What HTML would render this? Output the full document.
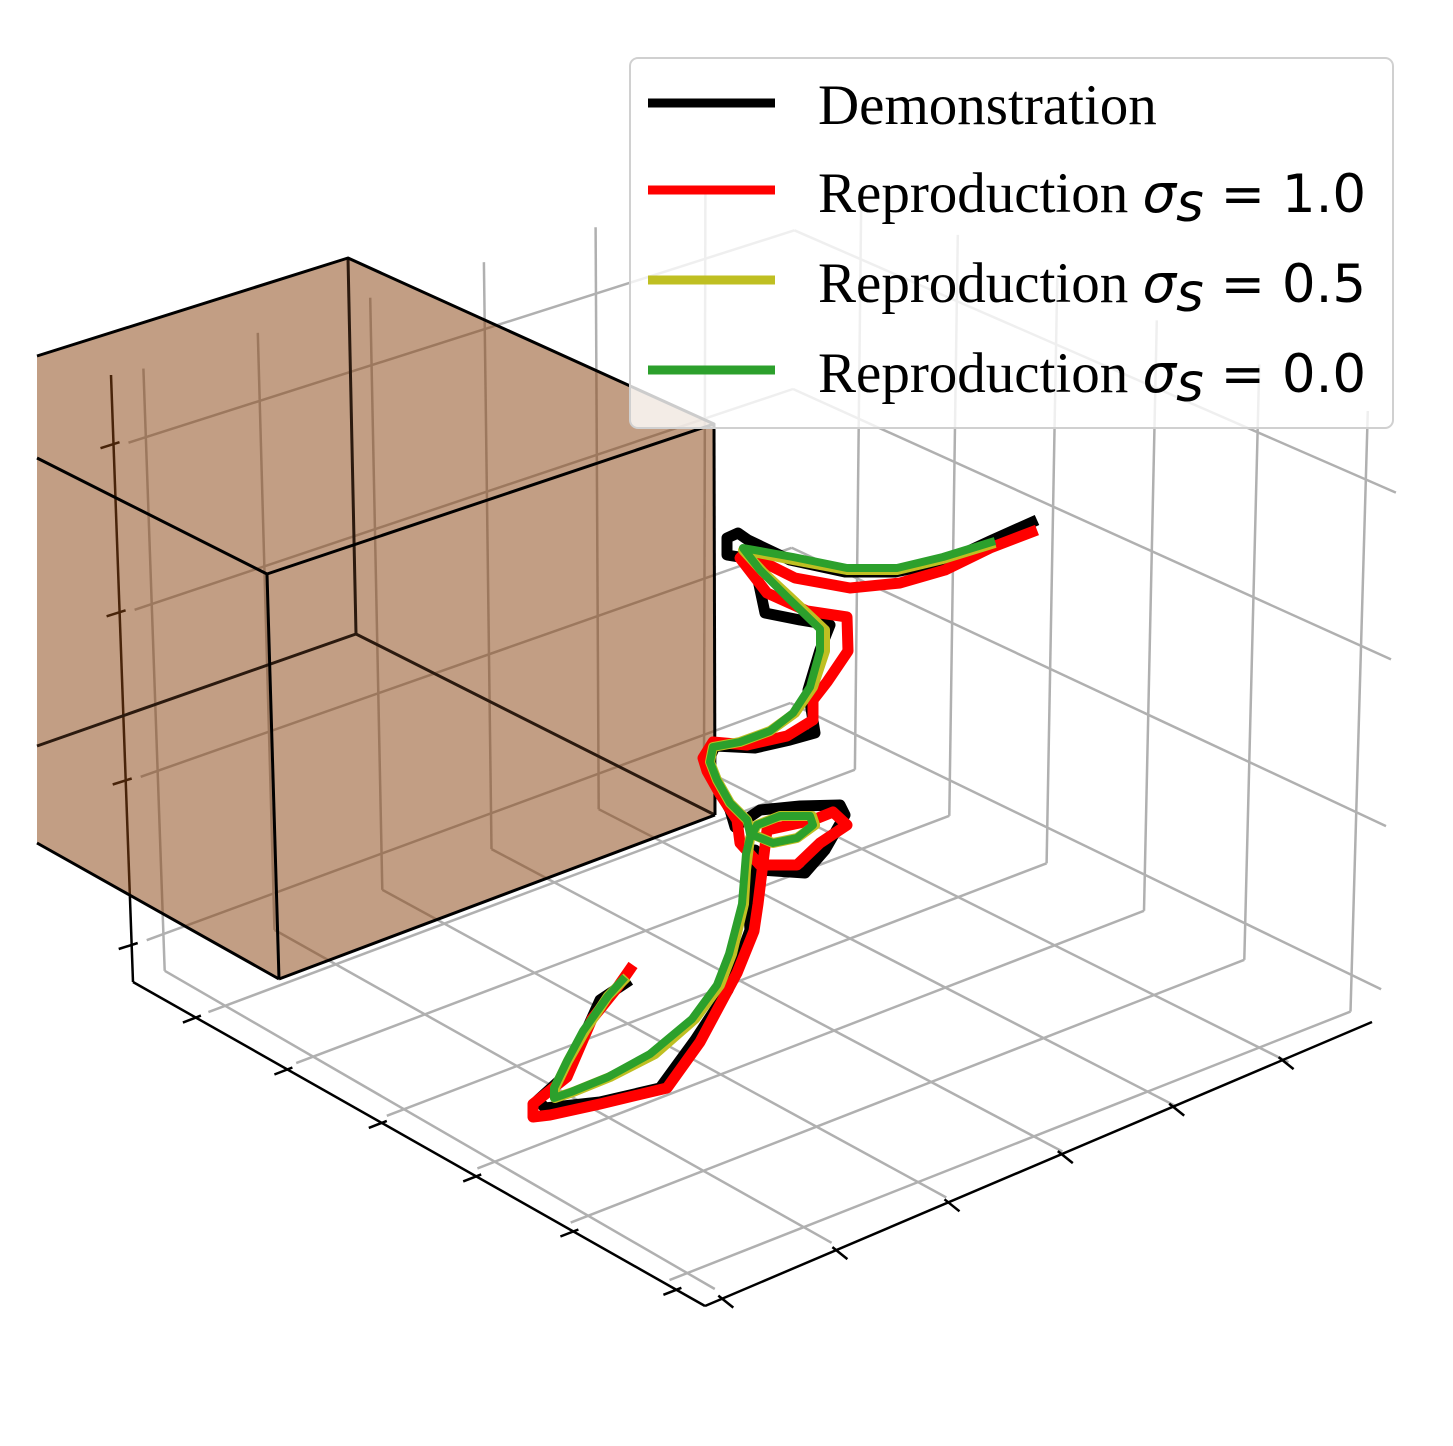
<!DOCTYPE html>
<html><head><meta charset="utf-8"><style>
html,body{margin:0;padding:0;background:#fff;}
svg{display:block;}
.lt{font-family:"Liberation Serif",serif;font-size:57px;fill:#000;}
.mt{font-family:"DejaVu Sans",sans-serif;font-size:53px;fill:#000;}
</style></head><body>
<svg id="chart" width="1453" height="1446" viewBox="0 0 1453 1446" xmlns="http://www.w3.org/2000/svg">
<g id="grid"></g>
<g id="axes"></g>
<g id="box">
<polygon points="37,356 348,258 714,424 715,815 279,979 37,843" fill="rgb(139,69,19)" fill-opacity="0.52"/>
<g stroke="#2b1a0f" stroke-width="3" fill="none">
<line x1="348" y1="258" x2="356" y2="634"/>
<line x1="356" y1="634" x2="715" y2="815"/>
<line x1="356" y1="634" x2="37" y2="746"/>
</g>
<g stroke="#000" stroke-width="3" fill="none" stroke-linejoin="round">
<polyline points="37,356 348,258 714,424 267,574 37,458"/>
<line x1="267" y1="574" x2="279" y2="979"/>
<line x1="714" y1="424" x2="715" y2="815"/>
<line x1="279" y1="979" x2="37" y2="843"/>
<line x1="279" y1="979" x2="715" y2="815"/>
</g>
</g>
<g id="series"></g>
<g id="legend">
<rect x="630" y="58" width="763" height="370" rx="8" fill="#fff" fill-opacity="0.8" stroke="#d0d0d0" stroke-width="2"/>
<g>
<line x1="648" y1="103" x2="775" y2="103" stroke="#000" stroke-width="9"/>
<text class="lt" x="818" y="124">Demonstration</text></g>
<g>
<line x1="648" y1="190" x2="775" y2="190" stroke="#ff0000" stroke-width="9"/>
<text x="818" y="212"><tspan class="lt">Reproduction </tspan><tspan class="mt" font-style="italic">σ</tspan><tspan class="mt" font-style="italic" font-size="37" dy="9">s</tspan><tspan class="mt" dy="-9"> = 1.0</tspan></text></g>
<g>
<line x1="648" y1="280" x2="775" y2="280" stroke="#bfbf22" stroke-width="9"/>
<text x="818" y="302"><tspan class="lt">Reproduction </tspan><tspan class="mt" font-style="italic">σ</tspan><tspan class="mt" font-style="italic" font-size="37" dy="9">s</tspan><tspan class="mt" dy="-9"> = 0.5</tspan></text></g>
<g>
<line x1="648" y1="370" x2="775" y2="370" stroke="#2ca02c" stroke-width="9"/>
<text x="818" y="392"><tspan class="lt">Reproduction </tspan><tspan class="mt" font-style="italic">σ</tspan><tspan class="mt" font-style="italic" font-size="37" dy="9">s</tspan><tspan class="mt" dy="-9"> = 0.0</tspan></text></g>
</g>
</svg>
<script>
// tick fractions along each axis (unit cube)
const uTicks = [0.134, 0.298, 0.465, 0.635, 0.803, 0.974];
const vTicks = [0.11, 0.27, 0.435, 0.60, 0.77, 0.95];
const wTicks = [0.061, 0.332, 0.609, 0.886];
// trajectories (projected plot units, tenths of pixels scale)
const demoX = [103.7,99.0,94.5,89.5,84.5,79.0,74.8,73.8,72.7,72.7,74.5,75.8,76.5,80.0,83.0,82.0,80.8,81.5,79.0,75.5,71.5,70.8,71.7,73.0,73.5,76.0,80.0,84.0,84.5,82.5,80.5,76.0,75.5,74.8,75.0,72.8,69.5,66.0,60.0,54.5,53.8,56.0,58.2,60.0,63.0];
const demoY = [52.0,54.1,56.2,57.2,57.2,56.0,54.0,53.3,53.8,55.5,55.8,58.0,61.3,62.0,62.5,65.0,69.0,73.3,74.0,74.8,74.6,76.2,78.5,81.0,82.7,81.0,80.6,80.5,81.5,85.0,87.3,87.0,85.0,90.0,93.0,99.0,104.0,108.8,110.2,110.8,110.0,108.0,104.0,100.0,98.0];
const s10X = [103.7,99.0,94.5,90.0,85.0,79.5,74.5,74.0,76.7,80.7,84.7,84.8,82.7,81.3,81.3,78.7,74.7,71.3,70.3,70.7,72.0,73.7,74.0,76.0,79.7,82.0,84.7,83.3,81.3,76.7,75.8,75.4,73.7,70.0,66.7,60.0,55.0,53.3,53.3,56.7,59.2,61.7,63.3];
const s10Y = [53.0,54.8,57.0,58.3,58.8,57.8,55.3,55.8,59.3,61.1,61.7,65.1,68.2,70.0,72.0,73.6,74.5,74.2,75.8,77.1,79.4,82.0,84.3,86.5,86.5,84.3,82.5,81.2,82.0,83.0,90.4,93.1,97.3,104.2,108.8,110.4,111.5,111.7,110.4,107.7,101.9,98.8,96.5];
const s05X = [99.5,94.3,89.7,84.7,79.3,74.3,76.3,79.0,82.5,82.5,81.3,79.5,77.0,74.0,71.3,71.0,71.7,73.0,74.7,75.2,77.3,79.7,81.5,81.2,78.0,75.7,75.0,74.6,74.4,73.2,72.0,69.5,65.5,61.0,57.3,55.5,55.5,56.8,58.5,60.8,62.7];
const s05Y = [54.3,55.9,57.0,57.0,56.0,55.0,57.2,59.7,63.0,65.1,68.7,71.3,73.1,74.2,74.7,76.2,78.0,80.3,82.0,83.4,84.3,83.8,82.5,81.6,81.6,82.5,83.8,87.0,90.4,95.4,98.5,101.9,105.4,107.7,109.2,109.8,108.8,106.1,103.1,99.6,97.7];
const s00X = [99.5,94.3,89.7,84.7,79.3,74.3,76.0,78.7,82.0,82.0,81.0,79.3,77.0,74.0,71.3,71.0,71.7,73.0,74.7,75.0,77.3,79.7,81.3,81.0,78.0,75.7,75.0,74.6,74.2,72.9,71.7,69.2,65.0,60.8,57.1,55.4,55.4,56.7,58.3,60.8,62.5];
const s00Y = [54.1,55.7,56.8,56.8,55.7,54.8,57.0,59.7,62.9,65.1,68.7,71.3,73.1,74.2,74.7,76.2,78.0,80.3,82.0,83.4,84.3,83.8,82.5,81.6,81.6,82.5,83.8,85.4,90.4,95.4,98.5,101.9,105.4,107.7,109.2,109.8,108.8,106.1,103.1,99.6,97.7];

const NS = "http://www.w3.org/2000/svg";
const FC=[790,738], FB=[148,977], FD=[1380,1026], FA=[697,1296];
const TC=[795,165], TB=[126,374], TD=[1398,424], TA=[688,664];
function bil(c,b,d,a,u,v,i){return c[i]*(1-u)*(1-v)+b[i]*u*(1-v)+d[i]*(1-u)*v+a[i]*u*v;}
function P(u,v,w){
  const fx=bil(FC,FB,FD,FA,u,v,0), fy=bil(FC,FB,FD,FA,u,v,1);
  const tx=bil(TC,TB,TD,TA,u,v,0), ty=bil(TC,TB,TD,TA,u,v,1);
  return [fx+w*(tx-fx), fy+w*(ty-fy)];
}
function sx(d){return d*10;}
function sy(d){return d*10;}
function mkLine(parent,a,b,stroke,sw,name){
  const l=document.createElementNS(NS,'line');
  l.setAttribute('x1',a[0].toFixed(1));l.setAttribute('y1',a[1].toFixed(1));
  l.setAttribute('x2',b[0].toFixed(1));l.setAttribute('y2',b[1].toFixed(1));
  l.setAttribute('stroke',stroke);l.setAttribute('stroke-width',sw);
  
  
  parent.appendChild(l);
}
const grid=document.getElementById('grid');
const gc='#b0b0b0';
uTicks.forEach(u=>{
  mkLine(grid,P(u,0,0),P(u,0,1),gc,2.5,'left-wall-gridline');
  mkLine(grid,P(u,0,0),P(u,1,0),gc,2.5,'floor-gridline');
});
vTicks.forEach(v=>{
  mkLine(grid,P(0,v,0),P(0,v,1),gc,2.5,'right-wall-gridline');
  mkLine(grid,P(0,v,0),P(1,v,0),gc,2.5,'floor-gridline');
});
wTicks.forEach(w=>{
  mkLine(grid,P(0,0,w),P(1,0,w),gc,2.5,'left-wall-gridline');
  mkLine(grid,P(0,0,w),P(0,1,w),gc,2.5,'right-wall-gridline');
});
const axes=document.getElementById('axes');
const xa0=[133,982], xa1=[705,1306], ya1=[1372,1022], za1=[111,375];
mkLine(axes,xa0,xa1,'#000',2.5,'front-left-axis');
mkLine(axes,xa1,ya1,'#000',2.5,'front-right-axis');
mkLine(axes,xa0,za1,'#000',2.5,'z-axis');
function lerp(a,b,t){return [a[0]+(b[0]-a[0])*t,a[1]+(b[1]-a[1])*t];}
vTicks.forEach(v=>{
  const p=lerp(xa0,xa1,v);
  mkLine(axes,[p[0]-13,p[1]+5],[p[0]+5,p[1]-2],'#000',2.5,'front-left-axis-tick');
});
uTicks.forEach(u=>{
  const p=lerp(ya1,xa1,u);
  mkLine(axes,[p[0]-4,p[1]-3],[p[0]+11,p[1]+9],'#000',2.5,'front-right-axis-tick');
});
wTicks.forEach(w=>{
  const p=lerp(xa0,za1,w);
  mkLine(axes,[p[0]-13,p[1]+4],[p[0]+6,p[1]-2],'#000',2.5,'z-axis-tick');
});
const series=document.getElementById('series');
function drawSeries(xs,ys,color,sw,name){
  const pl=document.createElementNS(NS,'polyline');
  pl.setAttribute('points',xs.map((x,i)=>sx(x).toFixed(1)+','+sy(ys[i]).toFixed(1)).join(' '));
  pl.setAttribute('fill','none');pl.setAttribute('stroke',color);pl.setAttribute('stroke-width',sw);
  pl.setAttribute('stroke-linejoin','round');
  
  
  series.appendChild(pl);
}
drawSeries(demoX,demoY,'#000',11,'demonstration-line');
drawSeries(s10X,s10Y,'#ff0000',11,'reproduction-sigma-1-line');
drawSeries(s05X,s05Y,'#bfbf22',10,'reproduction-sigma-05-line');
drawSeries(s00X,s00Y,'#2ca02c',8,'reproduction-sigma-0-line');
</script>
</body></html>
